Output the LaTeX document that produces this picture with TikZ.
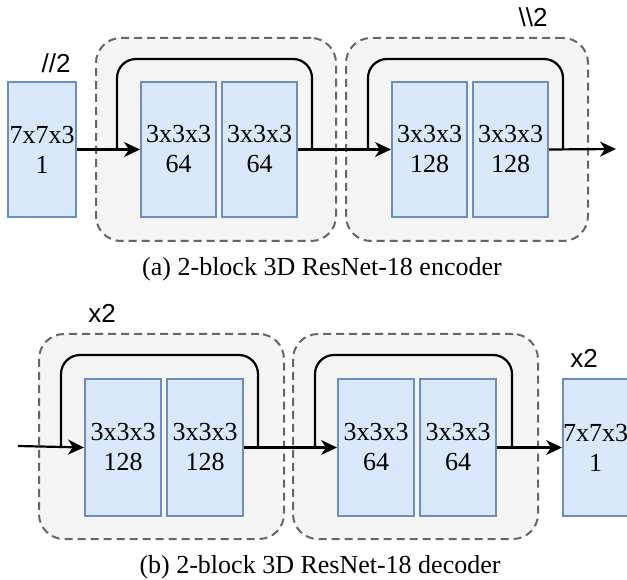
\documentclass[tikz,border=0pt]{standalone}
\usepackage{fontspec}
\setmainfont{Liberation Serif}
\newfontfamily\labfont{Liberation Sans}
\usetikzlibrary{arrows.meta}
\definecolor{bluef}{HTML}{DAE8FC}
\definecolor{blueb}{HTML}{6C8EBF}
\definecolor{grpf}{HTML}{F5F5F5}
\definecolor{grpb}{HTML}{666666}
\begin{document}
\begin{tikzpicture}[x=1pt,y=-1pt,
  layer/.style={draw=blueb, fill=bluef, line width=2pt, minimum width=75pt, minimum height=135pt,
    inner sep=0pt, align=center, anchor=north west, font=\fontsize{26}{30}\selectfont},
  grp/.style={draw=grpb, fill=grpf, dashed, dash pattern=on 8pt off 5pt, line width=2pt,
    rounded corners=25pt, inner sep=0pt, anchor=north west},
  conn/.style={line width=2.2pt, -{Stealth[length=16pt,width=15pt,inset=5pt]}},
  skip/.style={line width=2.2pt, rounded corners=19pt},
  lab/.style={font=\labfont\fontsize{26}{30}\selectfont, inner sep=0pt},
  captext/.style={font=\fontsize{26}{30}\selectfont, inner sep=0pt}]
\useasboundingbox (0,0) rectangle (627,580);
% ---------- (a) encoder ----------
\node[grp, minimum width=240pt, minimum height=203pt] (g1) at (95,37) {};
\node[grp, minimum width=242pt, minimum height=203pt] (g2) at (345,37) {};
\node[layer, minimum width=68pt] (in) at (7,81) {7x7x3\\1};
\node[layer] (a1) at (140,81) {3x3x3\\64};
\node[layer] (a2) at (221,81) {3x3x3\\64};
\node[layer] (b1) at (391,81) {3x3x3\\128};
\node[layer] (b2) at (472,81) {3x3x3\\128};
\coordinate (aout) at (616,149);
\coordinate (s1a) at (117,149);
\coordinate (s1b) at (312,149);
\coordinate (s2a) at (368,149);
\coordinate (s2b) at (563,149);
\draw[skip] (s1a) -- (117,59) -- (312,59) -- (s1b);
\draw[skip] (s2a) -- (368,59) -- (563,59) -- (s2b);
\draw[conn] (in.east) -- (a1.west);
\draw[conn] (a2.east) -- (b1.west);
\draw[conn] (b2.east) -- (aout);
\node[lab] (d1) at (56,63) {//2};
\node[lab] (d2) at (533,17) {\textbackslash\textbackslash 2};
\node[captext] (capa) at (322,269) {(a) 2-block 3D ResNet-18 encoder};
% ---------- (b) decoder ----------
\node[grp, minimum width=245pt, minimum height=205pt] (g3) at (38,333) {};
\node[grp, minimum width=245pt, minimum height=205pt] (g4) at (292,333) {};
\node[layer, minimum width=76pt, minimum height=137pt] (c1) at (84,378) {3x3x3\\128};
\node[layer, minimum width=76pt, minimum height=137pt] (c2) at (166,378) {3x3x3\\128};
\node[layer, minimum width=76pt, minimum height=137pt] (e1) at (337,378) {3x3x3\\64};
\node[layer, minimum width=76pt, minimum height=137pt] (e2) at (419,378) {3x3x3\\64};
\node[layer, minimum width=64pt, minimum height=137pt] (out) at (562,378) {7x7x3\\1};
\coordinate (bin) at (18,446);
\coordinate (s3a) at (61,446);
\coordinate (s3b) at (258,446);
\coordinate (s4a) at (315,446);
\coordinate (s4b) at (512,446);
\draw[skip] (s3a) -- (61,355) -- (258,355) -- (s3b);
\draw[skip] (s4a) -- (315,355) -- (512,355) -- (s4b);
\draw[conn] (bin) -- (c1.west);
\draw[conn] (c2.east) -- (e1.west);
\draw[conn] (e2.east) -- (out.west);
\node[lab] (u1) at (102,313) {x2};
\node[lab] (u2) at (584,358) {x2};
\node[captext] (capb) at (320,567) {(b) 2-block 3D ResNet-18 decoder};
\end{tikzpicture}
\end{document}
